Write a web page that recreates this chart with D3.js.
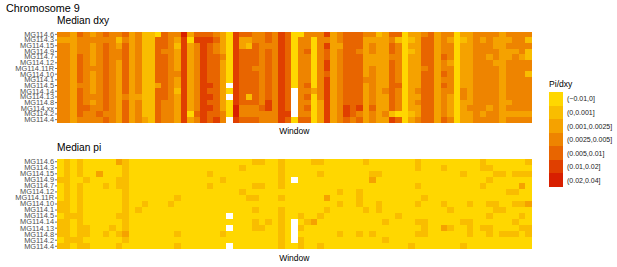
<!DOCTYPE html>
<html>
<head>
<meta charset="utf-8">
<script src="https://cdn.jsdelivr.net/npm/d3@7"></script>
<style>
  html, body { margin: 0; padding: 0; background: #fff; }
  svg { display: block; }
  text { font-family: "Liberation Sans", Arial, sans-serif; }
  .tick text { fill: #4d4d4d; font-size: 7.4px; }
  .tick line { stroke: #333; stroke-width: 0.7; }
  .axis path { display: none; }
  .panel-title { font-size: 10.2px; fill: #000; }
  .axis-title { font-size: 8.5px; fill: #000; text-anchor: middle; }
  .legend-label { font-size: 7px; fill: #222; }
</style>
</head>
<body>
<svg id="chart" width="617" height="267"></svg>
<script>
// row labels, top to bottom
const dxySamples = ["MG114.6", "MG114.3", "MG114.15", "MG114.9", "MG114.7", "MG114.12", "MG114.11R", "MG114.10",
  "MG114.1", "MG114.5", "MG114.14", "MG114.13", "MG114.8", "MG114.xx", "MG114.2", "MG114.4"];
const piSamples = ["MG114.6", "MG114.3", "MG114.15", "MG114.9", "MG114.7", "MG114.12", "MG114.11R", "MG114.10",
  "MG114.1", "MG114.5", "MG114.14", "MG114.13", "MG114.8", "MG114.2", "MG114.4"];

const bins = ["(\u22120.01,0]", "(0,0.001]", "(0.001,0.0025]", "(0.0025,0.005]", "(0.005,0.01]", "(0.01,0.02]", "(0.02,0.04]"];
const binColors = ["#ffd700", "#f9bd00", "#f5a200", "#ee8400", "#e86500", "#e03f00", "#d81f00"];

// one string per window, one character per sample: bin index, n = no data
const dxyWindows = [
  "3233333333333333", "3233333333333333", "2222222222222222", "4333444443444443", "3333333333333433",
  "2322223222232333", "3333333333333343", "4344444444444434", "3333333333333333", "3123322222222222",
  "4344444444434444", "2222222222222222", "3333333333323333", "1111111111111112", "1111111111111111",
  "0444444442444444", "4443444444443333", "3333333333333333", "3212222322122222", "6555555555555555",
  "2022222222222202", "4533333333333343", "4555555555555555", "4544444445454544", "3433444444444445",
  "2222322222222233", "000000000n0n000n", "5555555555555665", "4224444444444334", "4214444444414334",
  "3344443444444334", "3333333333333433", "4434444444445533", "3333333333333333", "5555555555555555",
  "4444444444444454", "0000000000nnnnn0", "0333333333333334", "3334333334343434", "3000000000200000",
  "3333333333332222", "5354455455555555", "2222222222222222", "3323333333333333", "4444444444444554",
  "4444444444444443", "4443444444444534", "3222222232222222", "3233223333333433", "1222222222222222",
  "2222222222322232", "4344344444444415", "4133333334333304", "0000000000000000", "2121222222222212",
  "2222222222323223", "3444443444444444", "4444444444444444", "2222222222222222", "3333433434333334",
  "3233323333322223", "0000000000000000", "2122222222332222", "2222222222222322", "3333333333333333",
  "3233333333333323", "3333233333333233", "3223323333333333", "2222222222222222", "3232233333332323",
  "3332333333333323", "3333233333333323", "3131133133333323"
];

const piWindows = [
  "000100011011101", "111111111111111", "000000000100010", "111011111111111", "000100000001101",
  "000000000000000", "002000000000000", "000010000000100", "000000000001000", "200110000100101",
  "111111111111210", "000000000000000", "000000001000000", "000000010000000", "000000000000000",
  "000000000000000", "000000000000000", "000000010000000", "000000100000101", "000000000000000",
  "000000000000000", "000000000000000", "000000000000000", "001010000000000", "000000000000000",
  "000100000000100", "000000000n0n00n", "000000000000000", "010001000000000", "000000100000000",
  "100010101011000", "100010000001000", "000000000010000", "000000000000000", "111110101111111",
  "000000000000000", "000n000000nnnn0", "000000000101011", "000000000010000", "100000000020000",
  "101000000100001", "000000201000000", "000000000000000", "000001010000100", "000000000000000",
  "000000000000000", "000001110000100", "100000001000000", "001200000000100", "001000011000000",
  "000000000010010", "000000000000000", "000000000100000", "000000000000000", "000000000000001",
  "110010010010100", "000000100011100", "000000000000000", "000000000000000", "010000010002000",
  "000000001001000", "000000000000000", "001000000010001", "000000010011100", "000000000000000",
  "110010000001000", "010100010101100", "001000011000000", "001000001000100", "000001000000100",
  "001001010010100", "001020010101000", "101000020001100"
];

const svg = d3.select("#chart");
const left = 57, right = 531.5;

const xScale = d3.scaleBand()
    .domain(d3.range(dxyWindows.length))
    .range([left, right]);

const colorScale = d3.scaleOrdinal()
    .domain(d3.range(bins.length))
    .range(binColors);

// one heatmap with its title, sample axis and x title
function drawPanel(title, samples, windows, top, bottom) {
  const yScale = d3.scaleBand()
      .domain(samples)
      .range([top, bottom]);

  const cells = [];
  windows.forEach((col, w) => {
    samples.forEach((s, i) => {
      if (col[i] !== "n") cells.push({window: w, sample: s, bin: +col[i]});
    });
  });

  const g = svg.append("g");
  g.selectAll("rect")
      .data(cells)
    .join("rect")
      .attr("x", d => xScale(d.window))
      .attr("y", d => yScale(d.sample))
      .attr("width", xScale.bandwidth())
      .attr("height", yScale.bandwidth())
      .attr("shape-rendering", "crispEdges")
      .attr("fill", d => colorScale(d.bin));

  svg.append("g")
      .attr("class", "axis")
      .attr("transform", `translate(${left},0)`)
      .call(d3.axisLeft(yScale).tickSize(2).tickPadding(1));

  svg.append("text")
      .attr("class", "panel-title")
      .attr("x", left)
      .attr("y", top - 7.5)
      .text(title);

  svg.append("text")
      .attr("class", "axis-title")
      .attr("x", (left + right) / 2)
      .attr("y", bottom + 11.5)
      .text("Window");
}

svg.append("text")
    .attr("x", 6)
    .attr("y", 12)
    .style("font-size", "10.8px")
    .text("Chromosome 9");

drawPanel("Median dxy", dxySamples, dxyWindows, 31.5, 122.5);
drawPanel("Median pi", piSamples, piWindows, 158.7, 249.3);

// legend
const legendY = d3.scaleBand()
    .domain(bins)
    .range([92, 187]);

svg.append("text")
    .attr("x", 549)
    .attr("y", 87)
    .style("font-size", "8.6px")
    .text("Pi/dxy");

svg.append("g").selectAll("rect")
    .data(bins)
  .join("rect")
    .attr("x", 549)
    .attr("y", d => legendY(d))
    .attr("width", 13.5)
    .attr("height", legendY.bandwidth())
    .attr("shape-rendering", "crispEdges")
    .attr("fill", (d, i) => binColors[i]);

svg.append("g").selectAll("text")
    .data(bins)
  .join("text")
    .attr("class", "legend-label")
    .attr("x", 567)
    .attr("y", d => legendY(d) + legendY.bandwidth() / 2 + 2.6)
    .text(d => d);
</script>
</body>
</html>
